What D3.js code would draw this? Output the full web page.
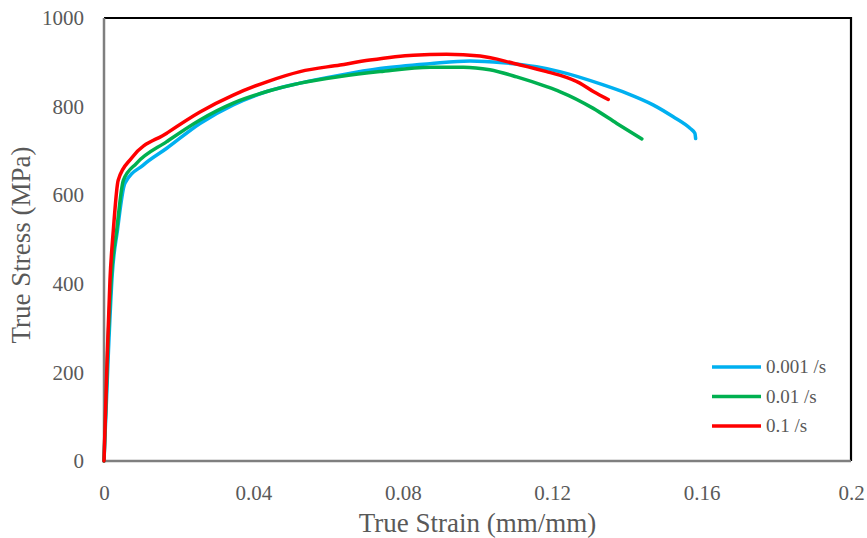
<!DOCTYPE html>
<html>
<head>
<meta charset="utf-8">
<script src="https://cdn.jsdelivr.net/npm/d3@7"></script>
<style>
  body { margin: 0; background: #fff; }
  svg { display: block; }
  .tick text { font-family: "Liberation Serif", "Times New Roman", serif; fill: #595959; }
</style>
</head>
<body>
<div id="graph"></div>
<script>
// valeurs (déformation, contrainte)
const strain001 = [0, 0.0012, 0.0022, 0.0036, 0.0056, 0.0105, 0.0168, 0.0257, 0.0346, 0.0436, 0.0525, 0.0632, 0.0739, 0.0873, 0.098, 0.1069, 0.1158, 0.122, 0.1337, 0.14, 0.147, 0.1524, 0.1569, 0.1582, 0.1584];
const stress001 = [0, 250, 420, 521, 627, 668, 706, 762, 804, 834, 853, 871, 886, 897, 903, 899, 890, 879, 849, 830, 804, 777, 751, 740, 728];

const strain01 = [0, 0.001, 0.002, 0.0034, 0.0052, 0.0087, 0.0168, 0.0257, 0.0346, 0.0436, 0.0525, 0.0632, 0.0739, 0.0873, 0.0962, 0.1033, 0.1105, 0.1185, 0.122, 0.131, 0.1373, 0.144];
const stress01 = [0, 250, 420, 521, 634, 672, 721, 770, 808, 834, 853, 868, 879, 889, 889, 883, 867, 845, 834, 796, 762, 727];

const strain1 = [0, 0.0008, 0.0016, 0.0025, 0.0038, 0.0074, 0.0168, 0.0257, 0.0346, 0.0436, 0.0525, 0.0632, 0.0712, 0.0828, 0.0917, 0.1007, 0.1096, 0.1185, 0.122, 0.1274, 0.131, 0.135];
const stress1 = [0, 220, 409, 521, 634, 684, 740, 788, 826, 856, 879, 894, 905, 916, 918, 914, 898, 879, 871, 853, 834, 816];

const seriesNames = ["0.001 /s", "0.01 /s", "0.1 /s"];
const seriesColors = ["#00B0F0", "#00B050", "#FF0000"];

const xTicks = [0, 0.04, 0.08, 0.12, 0.16, 0.2];
const yTicks = [0, 200, 400, 600, 800, 1000];

const width = 867, height = 538;
const plotLeft = 104, plotRight = 851, plotTop = 18, plotBottom = 461;

const x = d3.scaleLinear().domain([0, 0.2]).range([plotLeft, plotRight]);
const y = d3.scaleLinear().domain([0, 1000]).range([plotBottom, plotTop]);

const svg = d3.select("#graph").append("svg")
    .attr("width", width)
    .attr("height", height);

// cadre : haut et droite en noir
svg.append("path")
    .attr("d", `M${plotLeft},${plotTop}H${plotRight}V${plotBottom}`)
    .attr("fill", "none")
    .attr("stroke", "#000")
    .attr("stroke-width", 2.2);

// axes
svg.append("g")
    .attr("transform", `translate(0,${plotBottom})`)
    .call(d3.axisBottom(x).tickValues(xTicks).tickSize(0).tickPadding(24)
        .tickFormat(d => d === 0 ? "0" : String(+d.toFixed(2))))
    .call(g => g.select(".domain").remove())
    .selectAll("text").style("font-size", "21px");

svg.append("g")
    .attr("transform", `translate(${plotLeft},0)`)
    .call(d3.axisLeft(y).tickValues(yTicks).tickSize(0).tickPadding(20).tickFormat(d3.format("d")))
    .call(g => g.select(".domain").remove())
    .selectAll("text").style("font-size", "21px");

// lignes d'axe grises
svg.append("path")
    .attr("d", `M${plotLeft},${plotTop}V${plotBottom}H${plotRight}`)
    .attr("fill", "none")
    .attr("stroke", "#7f7f7f")
    .attr("stroke-width", 2.5);

const series = [
    strain001.map((s, i) => [s, stress001[i]]),
    strain01.map((s, i) => [s, stress01[i]]),
    strain1.map((s, i) => [s, stress1[i]])
];

const line = d3.line()
    .x(d => x(d[0]))
    .y(d => y(d[1]))
    .curve(d3.curveMonotoneX);

svg.append("g").selectAll("path")
    .data(series)
    .enter().append("path")
    .attr("d", line)
    .attr("fill", "none")
    .attr("stroke", (d, i) => seriesColors[i])
    .attr("stroke-width", 3.5)
    .attr("stroke-linejoin", "round")
    .attr("stroke-linecap", "round");

// légende
const legend = svg.append("g").selectAll("g")
    .data(seriesNames)
    .enter().append("g")
    .attr("transform", (d, i) => `translate(712,${367 + i * 29.5})`);

legend.append("line")
    .attr("x1", 0).attr("x2", 49)
    .attr("stroke", (d, i) => seriesColors[i])
    .attr("stroke-width", 3.5);

legend.append("text")
    .attr("x", 54)
    .attr("dy", "0.33em")
    .style("font-family", "'Liberation Serif', 'Times New Roman', serif")
    .style("font-size", "19px")
    .style("fill", "#595959")
    .text(d => d);

// titres des axes
svg.append("text")
    .attr("x", (plotLeft + plotRight) / 2)
    .attr("y", 532)
    .attr("text-anchor", "middle")
    .style("font-family", "'Liberation Serif', 'Times New Roman', serif")
    .style("font-size", "27px")
    .style("fill", "#595959")
    .text("True Strain (mm/mm)");

svg.append("text")
    .attr("transform", `translate(30,245) rotate(-90)`)
    .attr("text-anchor", "middle")
    .style("font-family", "'Liberation Serif', 'Times New Roman', serif")
    .style("font-size", "27px")
    .style("fill", "#595959")
    .text("True Stress (MPa)");
</script>
</body>
</html>
